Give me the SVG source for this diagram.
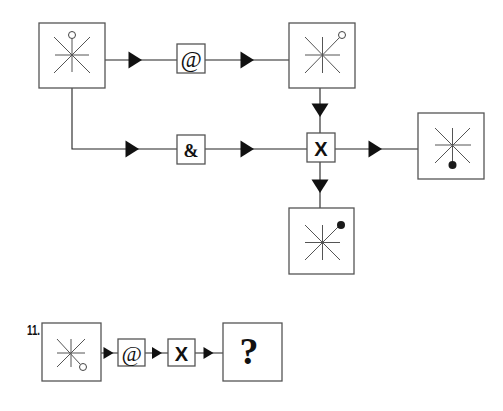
<svg xmlns="http://www.w3.org/2000/svg" xmlns:xlink="http://www.w3.org/1999/xlink" width="503" height="411" viewBox="0 0 503 411">
<style>
.box{fill:#fff;stroke:#555;stroke-width:1.3}
.star{fill:none;stroke:#555;stroke-width:1}
.ring{fill:#fff;stroke:#444;stroke-width:1}
.dot{fill:#1a1a1a}
.ln{fill:none;stroke:#222;stroke-width:1.1}
.ah{fill:#111}
.sym{font-family:"Liberation Serif",serif;fill:#111;text-anchor:middle}
.sans{font-family:"Liberation Sans",Arial,sans-serif;font-weight:bold;fill:#111;text-anchor:middle}
.lbl{font-family:"Liberation Sans",Arial,sans-serif;font-weight:bold;fill:#111;font-size:15px}
</style>
<defs>
<path id="ah" d="M-13.5,-8.5 L0,0 L-13.5,8.5 Z"/>
<path id="ahs" d="M-10,-6 L0,0 L-10,6 Z"/>
</defs>
<rect width="503" height="411" fill="#fff"/>
<g id="connectors">
<path class="ln" d="M105,60 H177 M205,60 H289"/>
<path class="ln" d="M72,88 V149 H177 M205,149 H307"/>
<path class="ln" d="M320,88 V133 M335,149 H418 M320,162 V208"/>
<path class="ln" d="M101,353 H118 M145,353 H168 M195,353 H223"/>
<use href="#ah" class="ah" transform="translate(142,60)"/>
<use href="#ah" class="ah" transform="translate(254,60)"/>
<use href="#ah" class="ah" transform="translate(139,149)"/>
<use href="#ah" class="ah" transform="translate(254,149)"/>
<use href="#ah" class="ah" transform="translate(382,149)"/>
<use href="#ah" class="ah" transform="translate(320,117) rotate(90)"/>
<use href="#ah" class="ah" transform="translate(320,193) rotate(90)"/>
<use href="#ahs" class="ah" transform="translate(113.5,353)"/>
<use href="#ahs" class="ah" transform="translate(162,353)"/>
<use href="#ahs" class="ah" transform="translate(213.5,353)"/>
</g>
<g id="node-start">
<rect class="box" x="39" y="23" width="66" height="65"/>
<path class="star" d="M55,55 H89 M72,38.5 V72 M54,73 L90,37 M54,37 L90,73"/>
<circle class="ring" cx="72" cy="35" r="3.5"/>
</g>
<g id="node-at">
<rect class="box" x="177" y="44" width="28" height="29"/>
<text class="sym" x="191" y="67" font-size="23" font-style="italic">@</text>
</g>
<g id="node-top-right">
<rect class="box" x="289" y="23" width="66" height="65"/>
<path class="star" d="M305,55 H340 M322.5,37 V73 M305,73 L339.5,37.5 M305,37 L340,73"/>
<circle class="ring" cx="342" cy="35" r="3.5"/>
</g>
<g id="node-amp">
<rect class="box" x="177" y="135" width="28" height="29"/>
<text class="sym" x="191" y="157" font-size="18" font-weight="bold">&amp;</text>
</g>
<g id="node-x">
<rect class="box" x="307" y="133" width="28" height="29"/>
<text class="sans" x="321" y="155.5" font-size="20">X</text>
</g>
<g id="node-right">
<rect class="box" x="418" y="113" width="66" height="66"/>
<path class="star" d="M435,145 H471 M452.5,128 V165 M435,128 L470,163 M435,163 L470,128"/>
<circle class="dot" cx="452.5" cy="165" r="4"/>
</g>
<g id="node-bottom">
<rect class="box" x="289" y="208" width="65" height="66"/>
<path class="star" d="M305,242.5 H340 M322.5,225 V260 M305,260 L340,225 M305,225 L340,260"/>
<circle class="dot" cx="341" cy="225" r="4"/>
</g>
<text id="label-11" class="lbl" x="27" y="335" textLength="13" lengthAdjust="spacingAndGlyphs">11.</text>
<g id="q-start">
<rect class="box" x="42" y="323" width="59" height="58"/>
<path class="star" d="M57,353 H85 M71,339 V367 M57,339 L80,364 M57,367 L85,339"/>
<circle class="ring" cx="83" cy="367" r="3.5"/>
</g>
<g id="q-at">
<rect class="box" x="118" y="339" width="27" height="27"/>
<text class="sym" x="131.5" y="361" font-size="22" font-style="italic">@</text>
</g>
<g id="q-x">
<rect class="box" x="168" y="339" width="27" height="27"/>
<text class="sans" x="181.5" y="360.5" font-size="20">X</text>
</g>
<g id="q-answer">
<rect class="box" x="223" y="323" width="59" height="58"/>
<text class="sym" x="249" y="364" font-size="38" font-weight="bold">?</text>
</g>
</svg>
